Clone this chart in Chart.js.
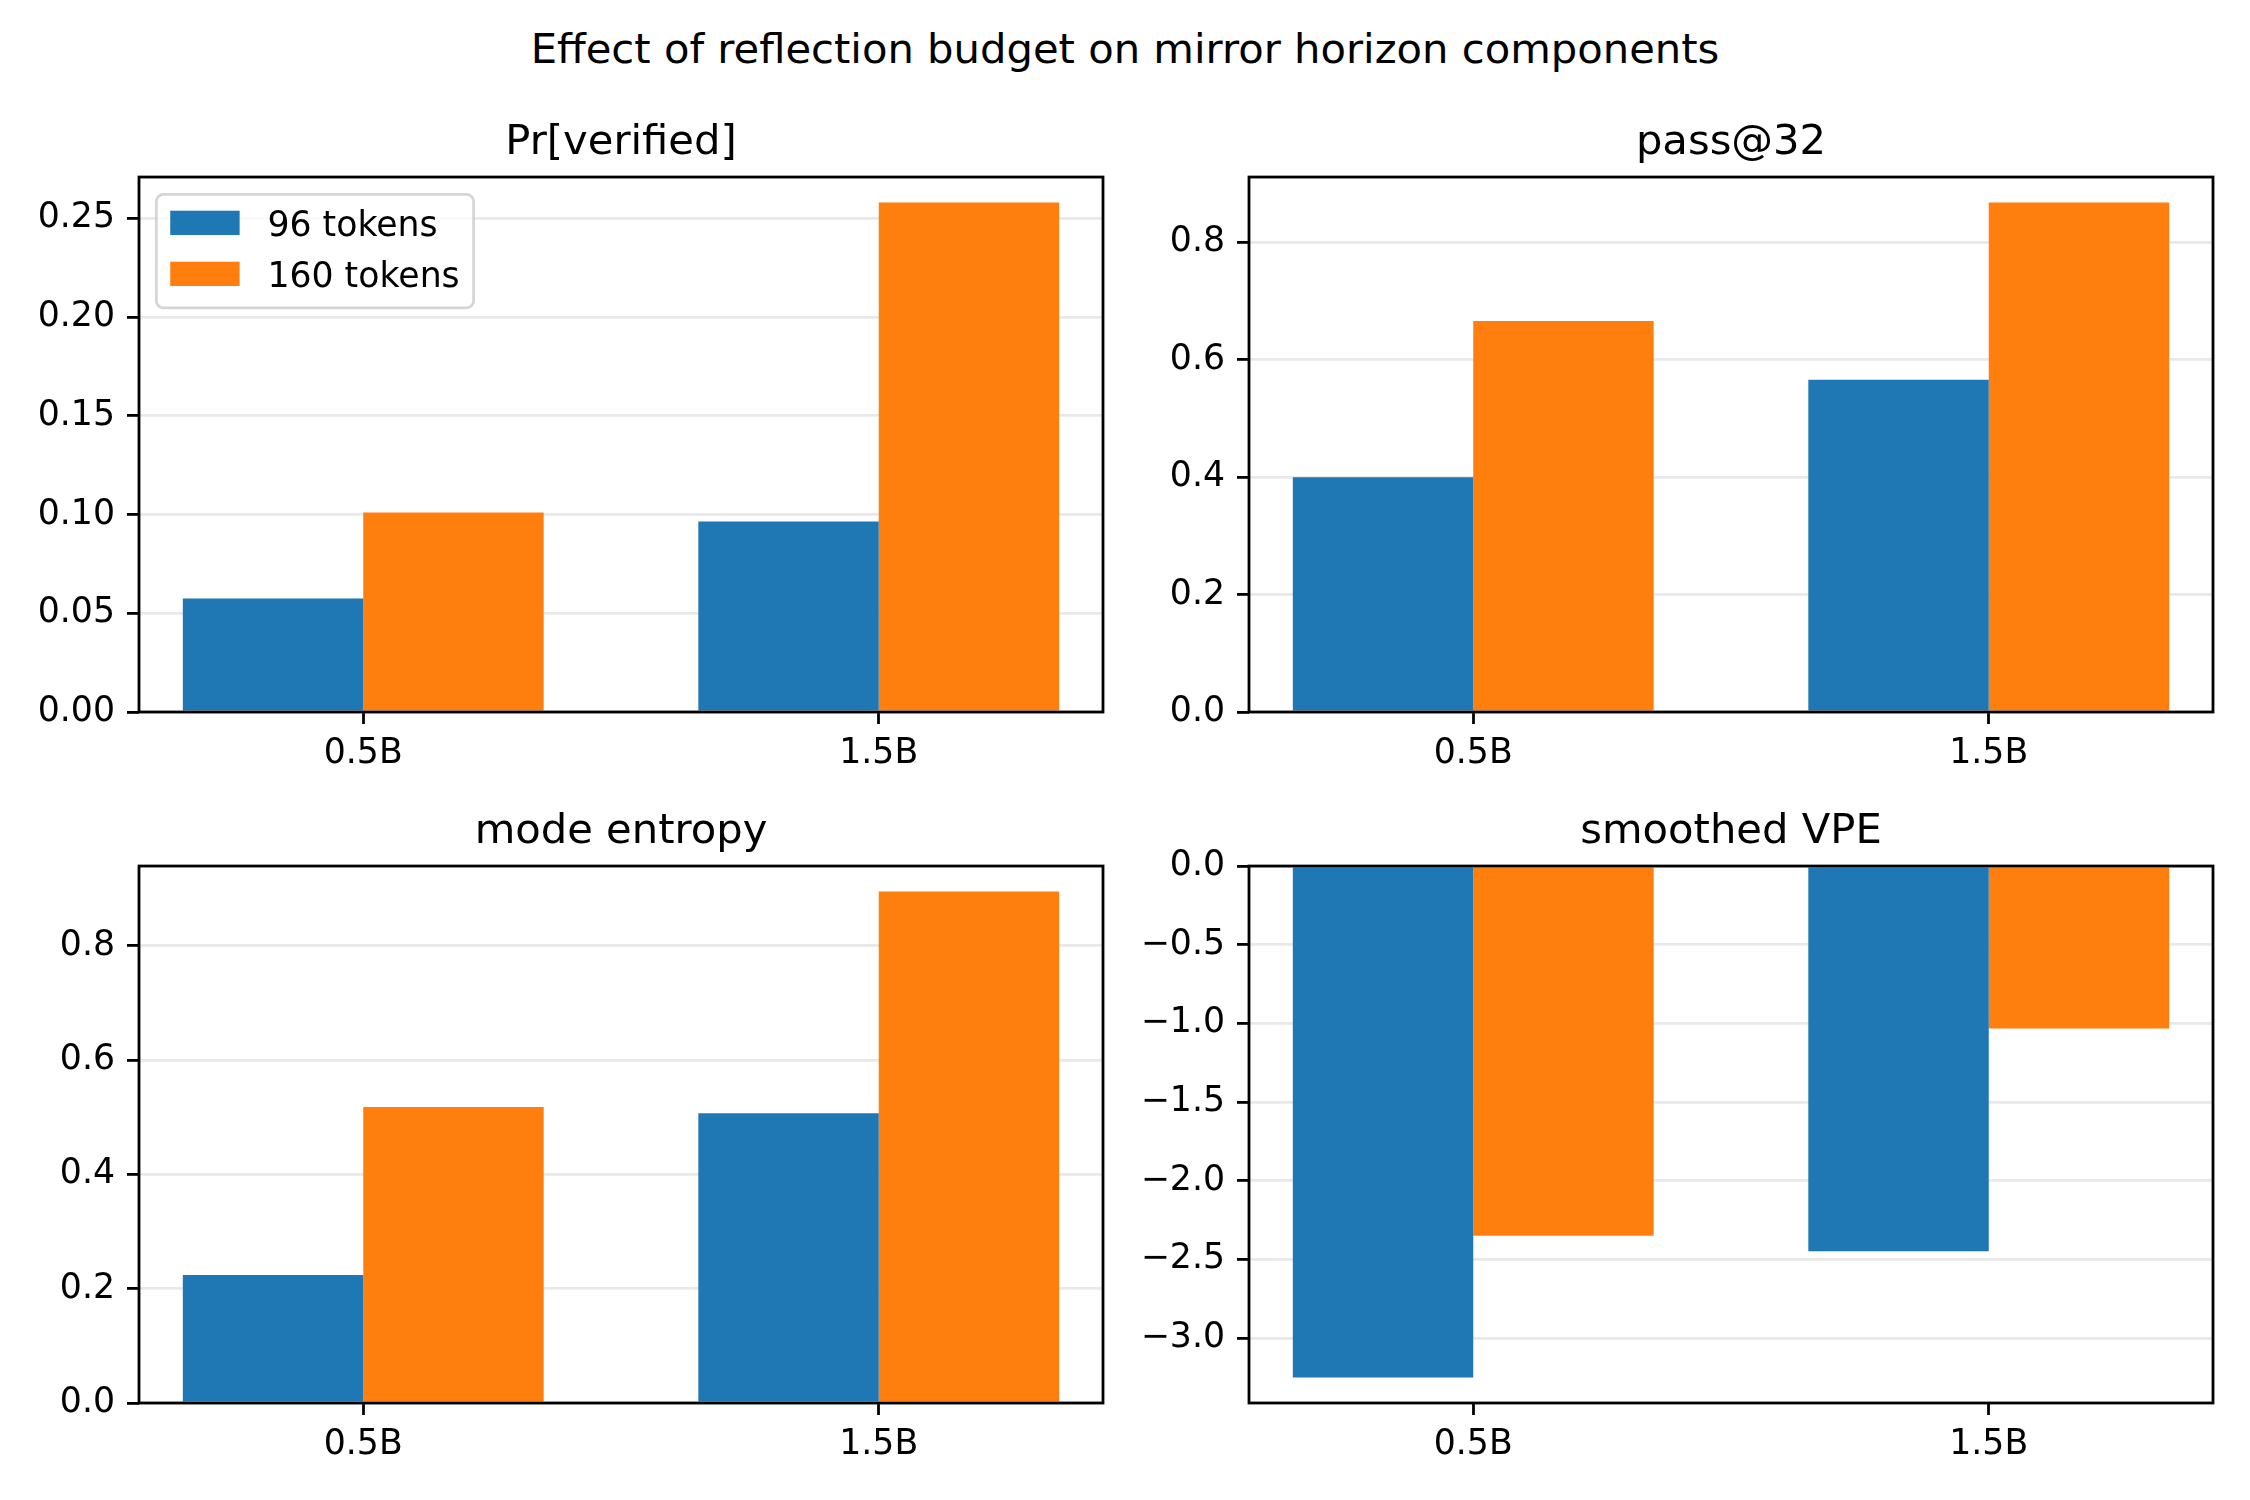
<!DOCTYPE html>
<html>
<head>
<meta charset="utf-8">
<script src="https://cdn.jsdelivr.net/npm/chart.js@4.4.1/dist/chart.umd.min.js"></script>
<style>
  html, body { margin: 0; padding: 0; background: #fff; }
  body { width: 2250px; height: 1500px; position: relative; overflow: hidden; font-family: "DejaVu Sans", sans-serif; }
  #suptitle { position: absolute; left: 0; top: 24px; width: 2250px; text-align: center; font-size: 41.7px; line-height: 50px; color: #000; }
  canvas { position: absolute; }
</style>
</head>
<body>
<div id="suptitle">Effect of reflection budget on mirror horizon components</div>
<canvas id="verified" width="1107" height="657" style="left:0px;top:115px"></canvas>
<canvas id="pass" width="1107" height="657" style="left:1110px;top:115px"></canvas>
<canvas id="entropy" width="1107" height="659" style="left:0px;top:804px"></canvas>
<canvas id="vpe" width="1107" height="659" style="left:1110px;top:804px"></canvas>
<script>
// mirror horizon components, two reflection budgets per model size

const modelSizes = ["0.5B", "1.5B"];
const seriesNames = ["96 tokens", "160 tokens"];
const seriesColors = ["#1f77b4", "#ff7f0e"];

const verified96 = [0.0575, 0.0965];
const verified160 = [0.101, 0.258];
const pass96 = [0.400, 0.566];
const pass160 = [0.666, 0.868];
const entropy96 = [0.224, 0.507];
const entropy160 = [0.518, 0.895];
const vpe96 = [-3.250, -2.448];
const vpe160 = [-2.349, -1.032];

const verifiedTicks = [0, 0.05, 0.10, 0.15, 0.20, 0.25];
const passTicks = [0, 0.2, 0.4, 0.6, 0.8];
const entropyTicks = [0, 0.2, 0.4, 0.6, 0.8];
const vpeTicks = [-3.0, -2.5, -2.0, -1.5, -1.0, -0.5, 0.0];

const barWidth = 0.35;
const EM = 34.7; // 10pt at 250 dpi

Chart.defaults.font.family = '"DejaVu Sans", sans-serif';
Chart.defaults.color = "#000";

// matplotlib-like autoscale: 5% margin, sticky at zero
function yLimits(values) {
  const lo = Math.min(0, ...values);
  const hi = Math.max(0, ...values);
  const pad = (hi - lo) * 0.05;
  return { min: lo < 0 ? lo - pad : 0, max: hi > 0 ? hi + pad : 0 };
}

function fmtTick(v, decimals) {
  return v.toFixed(decimals).replace("-", "\u2212");
}

// full box of spines
const spines = {
  id: "spines",
  afterDraw(chart) {
    const { ctx, chartArea: a } = chart;
    ctx.save();
    ctx.strokeStyle = "#000";
    ctx.lineWidth = 2.8;
    ctx.strokeRect(a.left, a.top, a.right - a.left, a.bottom - a.top);
    ctx.restore();
  }
};

// legend box in the upper-left corner of the axes
const insideLegend = {
  id: "insideLegend",
  afterDraw(chart, args, opts) {
    if (!opts.show) return;
    const { ctx, chartArea: a } = chart;
    const sets = chart.data.datasets;
    ctx.save();
    ctx.font = EM + 'px "DejaVu Sans"';
    const textW = Math.max(...sets.map((d) => ctx.measureText(d.label).width));
    const x0 = a.left + 0.5 * EM;
    const y0 = a.top + 0.5 * EM;
    const w = 0.4 * EM + 2 * EM + 0.8 * EM + textW + 0.4 * EM;
    const h = 3.27 * EM;
    ctx.beginPath();
    ctx.roundRect(x0, y0, w, h, 0.2 * EM);
    ctx.fillStyle = "rgba(255,255,255,0.8)";
    ctx.fill();
    ctx.strokeStyle = "rgba(204,204,204,0.8)";
    ctx.lineWidth = 2.8;
    ctx.stroke();
    sets.forEach((d, i) => {
      const cy = y0 + 0.82 * EM + i * 1.47 * EM;
      ctx.fillStyle = d.backgroundColor;
      ctx.fillRect(x0 + 0.4 * EM, cy - 0.35 * EM, 2 * EM, 0.7 * EM);
      ctx.fillStyle = "#000";
      ctx.textBaseline = "alphabetic";
      ctx.textAlign = "left";
      ctx.fillText(d.label, x0 + 3.2 * EM, cy + 0.365 * EM);
    });
    ctx.restore();
  }
};

function makePanel(id, title, low, high, ticks, decimals, showLegend) {
  const lim = yLimits(low.concat(high));
  const xPad = (modelSizes.length - 1 + 2 * barWidth) * 0.05;
  new Chart(document.getElementById(id), {
    type: "bar",
    data: {
      datasets: [
        { label: seriesNames[0], data: low.map((v, i) => ({ x: i, y: v })), backgroundColor: seriesColors[0] },
        { label: seriesNames[1], data: high.map((v, i) => ({ x: i, y: v })), backgroundColor: seriesColors[1] }
      ]
    },
    options: {
      responsive: false,
      animation: false,
      devicePixelRatio: 1,
      layout: { padding: { left: 0, right: 4, top: 0, bottom: 0 } },
      datasets: { bar: { categoryPercentage: 2 * barWidth, barPercentage: 1, borderWidth: 0 } },
      scales: {
        x: {
          type: "linear",
          offset: false,
          min: -barWidth - xPad,
          max: modelSizes.length - 1 + barWidth + xPad,
          afterBuildTicks: (axis) => { axis.ticks = modelSizes.map((_, i) => ({ value: i })); },
          afterFit: (axis) => { axis.height = 60; },
          z: 1,
          border: { display: false },
          grid: { offset: false, drawOnChartArea: false, drawTicks: true, tickLength: 12, tickWidth: 2.8, tickColor: "#000" },
          ticks: { padding: 9, font: { size: EM }, maxRotation: 0, callback: (v) => modelSizes[Math.round(v)] }
        },
        y: {
          min: lim.min,
          max: lim.max,
          afterBuildTicks: (axis) => { axis.ticks = ticks.map((v) => ({ value: v })); },
          afterFit: (axis) => { axis.width = 139; },
          z: 1,
          border: { display: false },
          grid: { color: "rgba(176,176,176,0.28)", lineWidth: 2.8, drawTicks: true, tickLength: 12, tickWidth: 2.8, tickColor: "#000" },
          ticks: { padding: 12, font: { size: EM }, callback: (v) => fmtTick(v, decimals) }
        }
      },
      plugins: {
        legend: { display: false },
        tooltip: { enabled: false },
        title: {
          display: true,
          text: title,
          fullSize: false,
          color: "#000",
          font: { size: 41.7, weight: "normal", lineHeight: 1.2 },
          padding: { top: 3, bottom: 9 }
        },
        insideLegend: { show: showLegend }
      }
    },
    plugins: [spines, insideLegend]
  });
}

makePanel("verified", "Pr[verified]", verified96, verified160, verifiedTicks, 2, true);
makePanel("pass", "pass@32", pass96, pass160, passTicks, 1, false);
makePanel("entropy", "mode entropy", entropy96, entropy160, entropyTicks, 1, false);
makePanel("vpe", "smoothed VPE", vpe96, vpe160, vpeTicks, 1, false);
</script>
</body>
</html>
